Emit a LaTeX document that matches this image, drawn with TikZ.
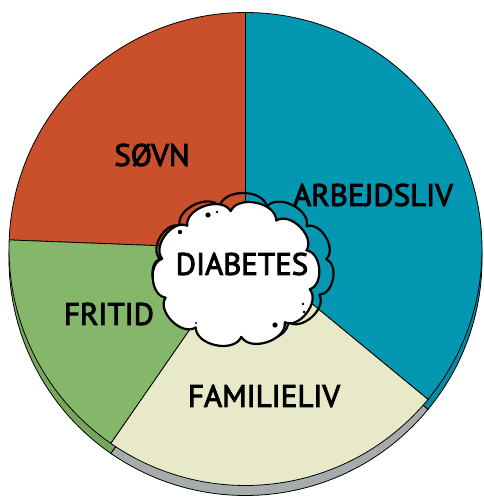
\documentclass[tikz,border=0pt]{standalone}
\usepackage{fontspec}
\newfontfamily\hand{PT Sans}[FakeBold=3]
\definecolor{sovn}{HTML}{C9502A}
\definecolor{arb}{HTML}{0397B1}
\definecolor{fri}{HTML}{84B769}
\definecolor{fam}{HTML}{E7E9C9}
\definecolor{grim}{HTML}{A6ABAB}
\definecolor{fririm}{HTML}{76A85C}
\definecolor{arbrim}{HTML}{0A8AA2}
\newcommand\mycloud[6]{({#1+#3*cos(#6)},{#2+#4*sin(#6)}) \foreach \k in {1,...,#5}{ to[bend right=78] ({#1+#3*cos(#6+\k*360/#5)},{#2+#4*sin(#6+\k*360/#5)}) } -- cycle}
\begin{document}
\begin{tikzpicture}[x=1pt,y=1pt,
  lbl/.style={font=\hand\fontsize{31}{31}\selectfont, text=black, inner sep=0pt},
  slice/.style={draw=black, line width=0.8pt, line join=round},
  cloudline/.style={draw=black, line width=2.2pt, line join=round}]
\useasboundingbox (0,0) rectangle (483,-502);
\coordinate (C) at (245.5,-249);
\coordinate (S) at (245.5,-259);
\def\R{236.5}
% rim (shifted copy)
\filldraw[slice, fill=arbrim] (S) -- ++(-39.5:\R) arc[start angle=-39.5, end angle=90, radius=\R] -- cycle;
\filldraw[slice, fill=grim] (S) -- ++(235.3:\R) arc[start angle=235.3, end angle=320.5, radius=\R] -- cycle;
\filldraw[slice, fill=fririm] (S) -- ++(177.8:\R) arc[start angle=177.8, end angle=235.3, radius=\R] -- cycle;
% main pie
\filldraw[slice, fill=arb] (C) -- ++(-39.5:\R) arc[start angle=-39.5, end angle=90, radius=\R] -- cycle;
\filldraw[slice, fill=sovn] (C) -- ++(90:\R) arc[start angle=90, end angle=177.8, radius=\R] -- cycle;
\filldraw[slice, fill=fri] (C) -- ++(177.8:\R) arc[start angle=177.8, end angle=235.3, radius=\R] -- cycle;
\filldraw[slice, fill=fam] (C) -- ++(235.3:\R) arc[start angle=235.3, end angle=320.5, radius=\R] -- cycle;
% clouds
\draw[cloudline] \mycloud{243}{-268}{84}{64}{11}{8};
\filldraw[cloudline, fill=white] \mycloud{236}{-274}{76}{63}{10}{22};
\foreach \p/\s in {{(208,-215)}/2.6, {(217,-212)}/1.3, {(180,-232)}/2.2, {(303,-304)}/1.3, {(304,-312)}/1.5, {(275,-325)}/2.6, {(196,-323)}/1.2}
  \fill[black] \p circle (\s);
% labels
\node[lbl] (sovnlbl) at (152,-155) {SØVN};
\node[lbl] (arblbl) at (373,-195) {ARBEJDSLIV};
\node[lbl] (diab) at (242,-264) {DIABETES};
\node[lbl] (frilbl) at (109,-314) {FRITID};
\node[lbl] (famlbl) at (264,-396) {FAMILIELIV};
\end{tikzpicture}
\end{document}
